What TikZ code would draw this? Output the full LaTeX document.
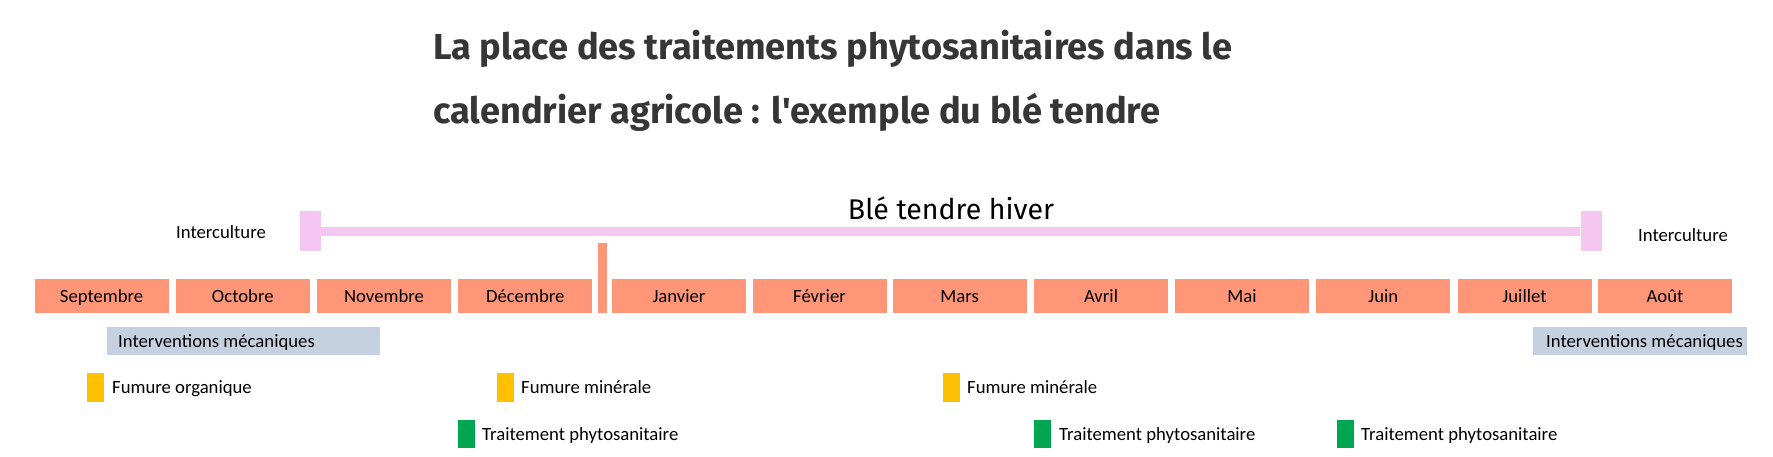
\documentclass[tikz,border=0pt]{standalone}
\usepackage{fontspec}
\setmainfont{Carlito}
\newfontfamily\titlefont{Fira Sans}
\definecolor{salmon}{HTML}{FF9677}
\definecolor{pinkc}{HTML}{F5C6F2}
\definecolor{bluegrey}{HTML}{C5D1E0}
\definecolor{yellowc}{HTML}{FFC000}
\definecolor{greenc}{HTML}{00A651}
\definecolor{titlec}{HTML}{363636}
\tikzset{
  month/.style={fill=salmon, minimum width=134pt, minimum height=34pt, inner sep=0pt,
    text height=14.5pt, text depth=2.5pt, font=\fontsize{18.7}{20}\selectfont},
  lbl/.style={inner sep=0pt, text height=14.5pt, text depth=2.5pt, font=\fontsize{18.7}{20}\selectfont},
  pinksq/.style={fill=pinkc, minimum width=21pt, minimum height=40pt, inner sep=0pt},
  mech/.style={fill=bluegrey, minimum height=28pt, inner sep=0pt},
  ymark/.style={fill=yellowc, minimum width=17pt, minimum height=29pt, inner sep=0pt},
  gmark/.style={fill=greenc, minimum width=17pt, minimum height=28pt, inner sep=0pt},
  ttl/.style={anchor=base west, inner sep=0pt, text=titlec, font=\titlefont\bfseries\fontsize{36.2}{40}\selectfont},
}
\begin{document}
\begin{tikzpicture}[x=1pt,y=-1pt]
\useasboundingbox (0,0) rectangle (1773,456);
% title
\node[ttl] (t1) at (433,59) {La place des traitements phytosanitaires dans le};
\node[ttl] (t2) at (433,123) {calendrier agricole : l'exemple du blé tendre};
% pink bar
\node[pinksq] (pl) at (310,231) {};
\node[pinksq] (pr) at (1591,231) {};
\draw[pinkc, line width=9pt] (pl.east) -- (pr.west);
\node[anchor=base, inner sep=0pt, font=\titlefont\fontsize{28.5}{32}\selectfont] (ble) at (951,219) {Blé tendre hiver};
\node[lbl] (icl) at (221,232.5) {Interculture};
\node[lbl] (icr) at (1683,235) {Interculture};
% months
\node[month] (sep) at (101.6,296) {Septembre};
\node[month] (oct) at (242.8,296) {Octobre};
\node[month] (nov) at (384,296) {Novembre};
\node[month] (dec) at (525.2,296) {Décembre};
\node[fill=salmon, minimum width=9pt, minimum height=70pt, inner sep=0pt] (sepbar) at (602.5,278) {};
\node[month] (jan) at (679,296) {Janvier};
\node[month] (fev) at (819.5,296) {Février};
\node[month] (mar) at (959.7,296) {Mars};
\node[month] (avr) at (1101,296) {Avril};
\node[month] (mai) at (1242,296) {Mai};
\node[month] (jun) at (1383.3,296) {Juin};
\node[month] (jul) at (1524.5,296) {Juillet};
\node[month] (aou) at (1665,296) {Août};
% interventions mecaniques
\node[mech, minimum width=273pt] (im1) at (243,341) {};
\node[lbl, anchor=west] (im1t) at (118,341) {Interventions mécaniques};
\node[mech, minimum width=214pt] (im2) at (1640,341) {};
\node[lbl, anchor=west] (im2t) at (1546,341) {Interventions mécaniques};
% fumures
\node[ymark] (y1) at (95.3,387.5) {};
\node[lbl, anchor=west] (f1) at (112,387) {Fumure organique};
\node[ymark] (y2) at (505,387.5) {};
\node[lbl, anchor=west] (f2) at (521,387) {Fumure minérale};
\node[ymark] (y3) at (951.3,387.5) {};
\node[lbl, anchor=west] (f3) at (967,387) {Fumure minérale};
% traitements
\node[gmark] (g1) at (466.5,434) {};
\node[lbl, anchor=west] (p1) at (482,434) {Traitement phytosanitaire};
\node[gmark] (g2) at (1042.5,434) {};
\node[lbl, anchor=west] (p2) at (1059,434) {Traitement phytosanitaire};
\node[gmark] (g3) at (1345.5,434) {};
\node[lbl, anchor=west] (p3) at (1361,434) {Traitement phytosanitaire};
\end{tikzpicture}
\end{document}
